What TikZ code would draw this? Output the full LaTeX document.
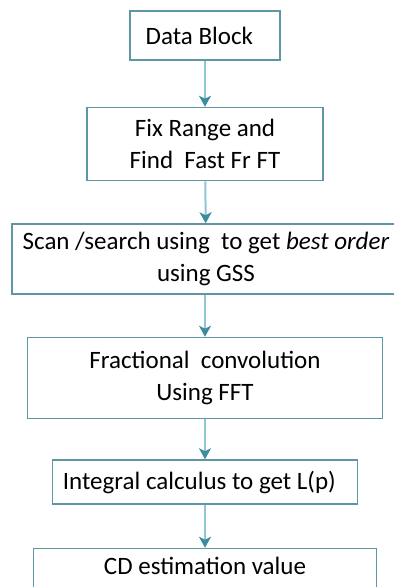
\documentclass[tikz,border=0pt]{standalone}
\usepackage{fontspec}
\setmainfont{Carlito}
\usetikzlibrary{arrows.meta,positioning}
\definecolor{boxline}{HTML}{5E96A4}
\definecolor{flowline}{HTML}{8FC6D2}
\definecolor{flowtip}{HTML}{3A8C9E}

\begin{document}
\begin{tikzpicture}[
      x=1pt, y=1pt,
      node distance=42pt,
      fbox/.style={rectangle, draw=boxline, line width=1.5pt, fill=white,
                   inner sep=0pt, align=center, text=black,
                   font=\fontsize{25}{32}\selectfont},
      arr/.style={-{Stealth[length=11pt, width=12pt, inset=3pt, color=flowtip]},
                  line width=2pt, color=flowline}
    ]
      \useasboundingbox (0,0) rectangle (394,-587);
      \node[fbox, minimum width=150pt, minimum height=49pt] (data) at (205,-35.5) {Data Block\ \ };
      \node[fbox, minimum width=236pt, minimum height=73pt, below=46pt of data] (range) {Fix Range and\\Find\ \ Fast Fr FT};
      \node[fbox, minimum width=388pt, minimum height=70pt, below=of range, xshift=1pt] (scan) {Scan /search using\ \ to get \textit{best order}\\using GSS};
      \node[fbox, minimum width=355pt, minimum height=81pt, below=of scan, xshift=-1pt] (conv) {Fractional\ \ convolution\\Using FFT};
      \node[fbox, minimum width=305pt, minimum height=44pt, below=40pt of conv] (integ) {Integral calculus to get L(p)\ \ };
      \node[fbox, minimum width=343pt, minimum height=62pt, below=43pt of integ] (cdval) {};
      \node[font=\fontsize{25}{32}\selectfont, anchor=base] (cdtext) at ([yshift=-27pt]cdval.north) {CD estimation value};
      \draw[arr] (data) -- (range);
      \draw[arr] (range) -- (scan);
      \draw[arr] (scan.south -| conv.north) -- (conv);
      \draw[arr] (conv) -- (integ);
      \draw[arr] (integ) -- (cdval);
    \end{tikzpicture}
\end{document}
